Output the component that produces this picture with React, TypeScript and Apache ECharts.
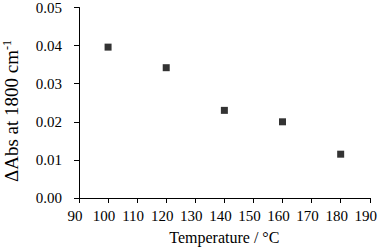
import React, { useEffect, useRef } from "react";
import * as echarts from "echarts";

const temperatures = [100, 120, 140, 160, 180];
const deltaAbs = [0.0396, 0.0342, 0.023, 0.02, 0.0115];
const xTitle = "Temperature / °C";
const yTitleMain = "ΔAbs at 1800 cm";
const yTitleSup = "-1";

const FONT = "'Liberation Serif', 'Times New Roman', serif";

export default function App() {
  const ref = useRef<HTMLDivElement>(null);
  useEffect(() => {
    if (!ref.current) return;
    const chart = echarts.init(ref.current, undefined, { renderer: "svg" });
    chart.setOption({
      animation: false,
      grid: { left: 79, right: 8, top: 5, bottom: 50 },
      xAxis: {
        type: "value",
        min: 90,
        max: 190,
        interval: 10,
        name: xTitle,
        nameLocation: "middle",
        nameGap: 31,
        nameTextStyle: { fontFamily: FONT, fontSize: 16, color: "#000" },
        axisLine: { show: true, lineStyle: { color: "#000", width: 1 } },
        axisTick: { show: true, length: 5, inside: false, lineStyle: { color: "#000" } },
        axisLabel: { fontFamily: FONT, fontSize: 15, color: "#000", margin: 10, padding: [0, 8, 0, 0] },
        splitLine: { show: false },
      },
      yAxis: {
        type: "value",
        min: 0,
        max: 0.05,
        interval: 0.01,
        axisLine: { show: true, lineStyle: { color: "#000", width: 1 } },
        axisTick: { show: true, length: 5, lineStyle: { color: "#000" } },
        axisLabel: {
          fontFamily: FONT,
          fontSize: 15,
          color: "#000",
          margin: 17,
          formatter: (v: number) => v.toFixed(2),
        },
        splitLine: { show: false },
      },
      graphic: [
        {
          type: "text",
          x: 11,
          y: 111,
          rotation: Math.PI / 2,
          style: {
            text: `{a|${yTitleMain}}{b|${yTitleSup}}`,
            align: "center",
            verticalAlign: "middle",
            rich: {
              a: { fontFamily: FONT, fontSize: 19, fill: "#000" },
              b: { fontFamily: FONT, fontSize: 12, fill: "#000", verticalAlign: "top", padding: [0, 0, 8, 0] },
            },
          },
        },
      ],
      series: [
        {
          type: "scatter",
          symbol: "rect",
          symbolSize: 7,
          itemStyle: { color: "#000" },
          data: temperatures.map((t, i) => [t, deltaAbs[i]]),
        },
      ],
    });
    return () => chart.dispose();
  }, []);
  return <div ref={ref} style={{ width: 380, height: 250, position: "absolute", left: 0, top: 0 }} />;
}
